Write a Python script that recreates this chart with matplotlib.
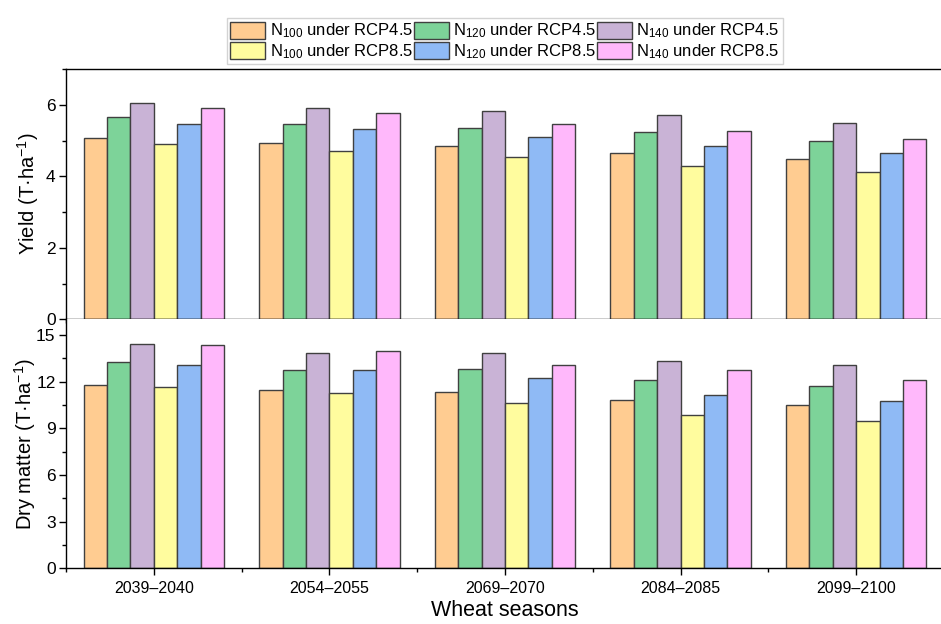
import matplotlib
matplotlib.use("Agg")
import numpy as np
import matplotlib.pyplot as plt
from matplotlib.ticker import MultipleLocator

plt.rcParams['font.family'] = ['Liberation Sans', 'DejaVu Sans']
plt.rcParams['mathtext.fontset'] = 'custom'
plt.rcParams['mathtext.rm'] = 'Liberation Sans'
plt.rcParams['mathtext.it'] = 'Liberation Sans:italic'
plt.rcParams['mathtext.bf'] = 'Liberation Sans:bold'

seasons = ['2039–2040', '2054–2055', '2069–2070', '2084–2085', '2099–2100']

# yield, T/ha
yield_n100_45 = [5.07, 4.94, 4.85, 4.65, 4.47]
yield_n120_45 = [5.66, 5.46, 5.34, 5.25, 5.00]
yield_n140_45 = [6.05, 5.90, 5.82, 5.70, 5.49]
yield_n100_85 = [4.90, 4.70, 4.54, 4.29, 4.12]
yield_n120_85 = [5.46, 5.31, 5.10, 4.86, 4.66]
yield_n140_85 = [5.92, 5.77, 5.46, 5.28, 5.04]

# dry matter, T/ha
dm_n100_45 = [11.77, 11.45, 11.32, 10.84, 10.48]
dm_n120_45 = [13.25, 12.77, 12.82, 12.09, 11.74]
dm_n140_45 = [14.41, 13.83, 13.85, 13.33, 13.09]
dm_n100_85 = [11.64, 11.25, 10.61, 9.84, 9.47]
dm_n120_85 = [13.07, 12.73, 12.22, 11.13, 10.75]
dm_n140_85 = [14.32, 13.95, 13.05, 12.77, 12.11]

labels = [r'N$_{100}$ under RCP4.5', r'N$_{120}$ under RCP4.5', r'N$_{140}$ under RCP4.5',
          r'N$_{100}$ under RCP8.5', r'N$_{120}$ under RCP8.5', r'N$_{140}$ under RCP8.5']
colors = ['#FFCC91', '#7DD399', '#C9B3D6', '#FFFC9E', '#8FBAF5', '#FFB8FB']

yield_series = [yield_n100_45, yield_n120_45, yield_n140_45,
                yield_n100_85, yield_n120_85, yield_n140_85]
dm_series = [dm_n100_45, dm_n120_45, dm_n140_45,
             dm_n100_85, dm_n120_85, dm_n140_85]

fig = plt.figure(figsize=(9.41, 6.24), dpi=100)
ax1 = fig.add_axes([0.0701, 0.4883, 0.933, 0.4011])
ax2 = fig.add_axes([0.0701, 0.0893, 0.933, 0.3990])

x = np.arange(1, len(seasons) + 1)
width = 0.8 / 6


def draw_bars(ax, series):
    bars = []
    for i, vals in enumerate(series):
        b = ax.bar(x + (i - 2.5) * width, vals, width, color=colors[i],
                   edgecolor='#404040', linewidth=1.0, label=labels[i], zorder=2)
        bars.append(b)
    ax.set_xlim(0.5, 5.5)
    ax.spines['right'].set_visible(False)
    for s in ['left', 'bottom', 'top']:
        ax.spines[s].set_linewidth(1.0)
    ax.set_xticks(x)
    ax.set_xticks(x - 0.5, minor=True)
    ax.tick_params(axis='both', which='major', direction='out', length=5,
                   width=1.0, labelsize=12.5, pad=2.5)
    ax.tick_params(axis='both', which='minor', direction='out', length=3, width=1.0)
    ax.tick_params(axis='x', labelsize=11.5, pad=4)
    return bars


bars = draw_bars(ax1, yield_series)
draw_bars(ax2, dm_series)

ax1.set_ylim(0, 7)
ax1.yaxis.set_major_locator(MultipleLocator(2))
ax1.yaxis.set_minor_locator(MultipleLocator(1))
ax1.tick_params(axis='x', labelbottom=False)
ax1.set_ylabel('Yield (T·ha$^{-1}$)', fontsize=14.5)
ax1.yaxis.set_label_coords(-0.029, 0.5)

ax2.set_ylim(0, 16)
ax2.yaxis.set_major_locator(MultipleLocator(3))
ax2.yaxis.set_minor_locator(MultipleLocator(1.5))
ax2.spines['top'].set_visible(False)
ax2.set_xticklabels(seasons)
ax2.set_ylabel('Dry matter (T·ha$^{-1}$)', fontsize=14.5)
ax2.yaxis.set_label_coords(-0.032, 0.5)
ax2.set_xlabel('Wheat seasons', fontsize=15.5, labelpad=3)

# legend fills column-wise, so reorder to get RCP4.5 on the first row
order = [0, 3, 1, 4, 2, 5]
leg = fig.legend([bars[i] for i in order], [labels[i] for i in order],
                 loc='lower center', bbox_to_anchor=(0.5365, 0.897), ncol=3,
                 fontsize=12, frameon=True, fancybox=False, edgecolor='#C8C8C8',
                 handlelength=2.1, handleheight=1.2, handletextpad=0.25,
                 columnspacing=0.05, borderpad=0.2, labelspacing=0.1,
                 borderaxespad=0)
leg.get_frame().set_linewidth(1.0)

fig.savefig('out.png', dpi=100)
